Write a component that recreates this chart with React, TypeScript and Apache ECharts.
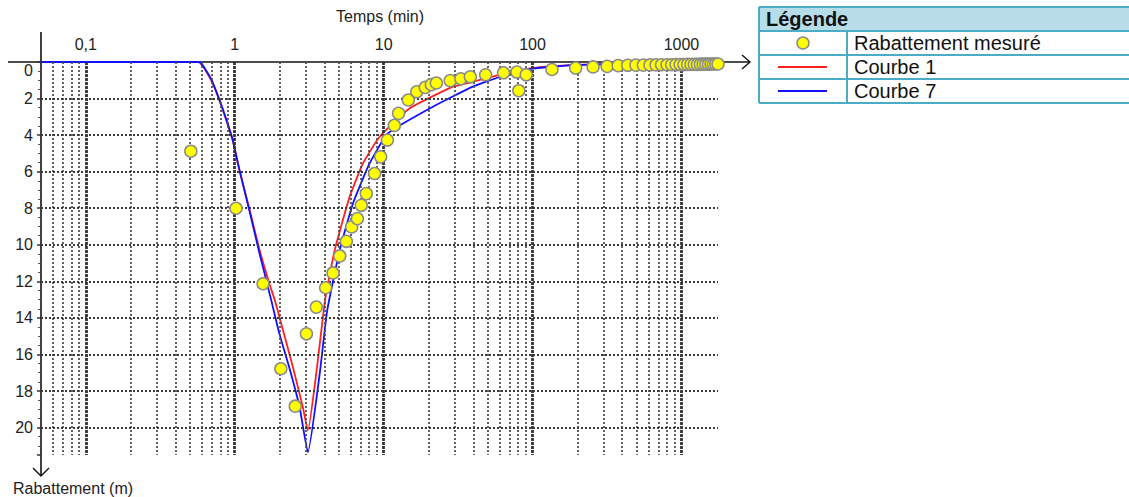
import React, { useEffect, useRef } from 'react';
import * as echarts from 'echarts';

// Measured drawdown (Rabattement mesuré): time (min) and drawdown (m)
const measuredTime = [0.507, 1.02, 1.55, 2.04, 2.55, 3.03, 3.53, 4.08, 4.57, 5.07, 5.62, 6.10, 6.66, 7.08, 7.65, 8.70, 9.55, 10.6, 11.8, 12.6, 14.65, 16.7, 19.05, 20.9, 22.6, 28.0, 33.0, 38.2, 48.4, 63.9, 78.5, 80.9, 90.7, 135, 195, 255, 317, 376, 436, 495, 555, 615, 675, 735, 800, 860, 920, 980, 1040, 1100, 1160, 1220, 1280, 1340, 1400, 1460, 1520, 1580, 1640, 1700, 1760];
const measuredDrawdown = [4.88, 8.0, 12.13, 16.78, 18.83, 14.87, 13.41, 12.35, 11.54, 10.61, 9.81, 9.02, 8.57, 7.84, 7.2, 6.10, 5.19, 4.27, 3.47, 2.81, 2.08, 1.63, 1.39, 1.24, 1.15, 1.02, 0.92, 0.81, 0.70, 0.59, 0.55, 1.57, 0.70, 0.41, 0.33, 0.27, 0.24, 0.20, 0.18, 0.17, 0.17, 0.16, 0.16, 0.15, 0.15, 0.15, 0.14, 0.14, 0.14, 0.13, 0.13, 0.13, 0.13, 0.12, 0.12, 0.12, 0.12, 0.11, 0.11, 0.11, 0.11];

// Courbe 1
const courbe1Time = [0.05, 0.57, 0.6, 0.63, 0.7, 0.79, 0.88, 0.97, 1.07, 1.26, 1.47, 1.72, 1.86, 2.46, 2.87, 3.1, 3.57, 4.04, 4.69, 5.91, 7.26, 9.4, 14.9, 29.2, 35.9, 60, 100, 200, 500, 1000, 1760];
const courbe1Drawdown = [0, 0, 0.15, 0.4, 1.05, 2.1, 3.2, 4.3, 5.85, 8.1, 10.3, 12.2, 13.04, 16.7, 18.9, 20.16, 16.7, 13.04, 10.3, 7.38, 5.55, 4.09, 2.54, 1.35, 1.17, 0.71, 0.33, 0.16, 0.09, 0.06, 0.04];

// Courbe 7
const courbe7Time = [0.05, 0.58, 0.63, 0.7, 0.79, 0.88, 0.97, 1.07, 1.26, 1.47, 1.76, 2.0, 2.34, 2.73, 3.1, 3.72, 4.18, 5.07, 6.22, 8.05, 10.7, 21.4, 39.7, 60, 100, 200, 500, 1000, 1760];
const courbe7Drawdown = [0, 0, 0.35, 0.99, 2.08, 3.18, 4.27, 5.82, 8.2, 10.5, 13.04, 14.9, 16.8, 18.9, 21.35, 17.06, 13.59, 10.3, 7.74, 5.55, 3.9, 2.45, 1.35, 0.82, 0.36, 0.16, 0.09, 0.06, 0.04];

// Grid lines
const majorTimes = [0.1, 1, 10, 100, 1000];
const minorTimes = [0.06, 0.07, 0.08, 0.09, 0.2, 0.3, 0.4, 0.5, 0.6, 0.7, 0.8, 0.9, 2, 3, 4, 5, 6, 7, 8, 9, 20, 30, 40, 50, 60, 70, 80, 90, 200, 300, 400, 500, 600, 700, 800, 900];
const depthGrid = [2, 4, 6, 8, 10, 12, 14, 16, 18, 20];

const FONT = '"Liberation Sans", Arial, sans-serif';

const zip = (a: number[], b: number[]) => a.map((v, i) => [v, b[i]]);

export default function App() {
  const ref = useRef<HTMLDivElement>(null);
  useEffect(() => {
    if (!ref.current) return;
    const chart = echarts.init(ref.current, null, { renderer: 'svg' });
    const borderColor = '#4bacc6';
    const hLine = (y: number) => ({ type: 'line', shape: { x1: 759, y1: y, x2: 1140, y2: y }, style: { stroke: borderColor, lineWidth: 2 } });
    const txt = (x: number, y: number, text: string, extra: any = {}) => ({
      type: 'text', x, y,
      style: { text, font: `20px ${FONT}`, fill: '#111', align: 'left', verticalAlign: 'middle', textAlign: 'left', textVerticalAlign: 'middle', ...extra },
    });
    const option: any = {
      animation: false,
      textStyle: { fontFamily: FONT },
      grid: { left: 41, top: 62, right: 411, bottom: 42 },
      xAxis: {
        type: 'log', logBase: 10, min: 0.05, max: 1760, position: 'top',
        axisLine: { show: false }, axisTick: { show: false }, splitLine: { show: false }, minorSplitLine: { show: false },
        axisLabel: {
          fontSize: 16, color: '#222', margin: 10, fontFamily: FONT,
          formatter: (v: number) => {
            const l = Math.log10(v);
            if (Math.abs(l - Math.round(l)) > 1e-6) return '';
            return String(Number(v.toPrecision(6))).replace('.', ',');
          },
        },
      },
      yAxis: {
        type: 'value', inverse: true, min: 0, max: 21.5, interval: 2,
        axisLine: { show: false },
        axisTick: { show: true, length: 4, lineStyle: { color: '#333', width: 1.5 } },
        minorTick: { show: true, splitNumber: 4, length: 3, lineStyle: { color: '#555' } },
        splitLine: { show: false },
        axisLabel: {
          fontSize: 16, color: '#222', margin: 8, fontFamily: FONT,
          formatter: (v: number) => (v === 0 ? '{z|0}' : Number.isInteger(v) ? String(v) : ''),
          rich: { z: { fontSize: 16, color: '#222', padding: [16, 0, 0, 0] } },
        },
      },
      series: [
        {
          name: 'grid', type: 'line', data: [], z: 1, silent: true,
          markLine: {
            silent: true, symbol: ['none', 'none'], label: { show: false }, animation: false,
            emphasis: { disabled: true },
            data: [
              ...minorTimes.map((v) => ({ xAxis: v, lineStyle: { color: '#505050', width: 1.8, type: [2, 2] } })),
              ...majorTimes.map((v) => ({ xAxis: v, lineStyle: { color: '#333', width: 2.8, type: [3, 1] } })),
              ...depthGrid.map((v) => ({ yAxis: v, lineStyle: { color: '#3a3a3a', width: 1.8, type: [2, 2] } })),
            ],
          },
        },
        {
          name: 'Courbe 1', type: 'line', data: zip(courbe1Time, courbe1Drawdown), showSymbol: false, symbol: 'none',
          smooth: 0.15, clip: false, z: 3, lineStyle: { color: '#ff2020', width: 1.8 },
        },
        {
          name: 'Courbe 7', type: 'line', data: zip(courbe7Time, courbe7Drawdown), showSymbol: false, symbol: 'none',
          smooth: 0.15, clip: false, z: 4, lineStyle: { color: '#1010ff', width: 1.8 },
        },
        {
          name: 'Rabattement mesuré', type: 'scatter', data: zip(measuredTime, measuredDrawdown), symbolSize: 12,
          clip: false, z: 5, itemStyle: { color: '#ffff00', borderColor: '#8a8a8a', borderWidth: 1.5, opacity: 1 },
        },
      ],
      graphic: [
        // axes with arrows
        { type: 'line', shape: { x1: 8, y1: 62, x2: 750, y2: 62 }, style: { stroke: '#111', lineWidth: 1.6 }, z: 0 },
        { type: 'polyline', shape: { points: [[742, 55], [750, 62], [742, 69]] }, style: { stroke: '#111', lineWidth: 1.4, fill: 'none' } },
        { type: 'line', shape: { x1: 41, y1: 32, x2: 41, y2: 476 }, style: { stroke: '#111', lineWidth: 1.6 }, z: 0 },
        { type: 'polyline', shape: { points: [[33, 468], [41, 476], [49, 468]] }, style: { stroke: '#111', lineWidth: 1.4, fill: 'none' } },
        { type: 'text', x: 380, y: 16, style: { text: 'Temps (min)', font: `16px ${FONT}`, fill: '#222', align: 'center', verticalAlign: 'middle', textAlign: 'center', textVerticalAlign: 'middle' } },
        { type: 'text', x: 13, y: 488, style: { text: 'Rabattement (m)', font: `16px ${FONT}`, fill: '#222', align: 'left', verticalAlign: 'middle', textAlign: 'left', textVerticalAlign: 'middle' } },
        // legend table
        { type: 'rect', shape: { x: 759, y: 7, width: 380, height: 24 }, style: { fill: '#b7dde8' } },
        hLine(7), hLine(31), hLine(55), hLine(79), hLine(103),
        { type: 'line', shape: { x1: 759, y1: 7, x2: 759, y2: 103 }, style: { stroke: borderColor, lineWidth: 2 } },
        { type: 'line', shape: { x1: 847, y1: 31, x2: 847, y2: 103 }, style: { stroke: borderColor, lineWidth: 2 } },
        txt(766, 19, 'Légende', { font: `bold 20px ${FONT}` }),
        { type: 'circle', shape: { cx: 803, cy: 43, r: 6 }, style: { fill: '#ffff00', stroke: '#8a8a8a', lineWidth: 1.5 } },
        txt(854, 43, 'Rabattement mesuré'),
        { type: 'line', shape: { x1: 778, y1: 67, x2: 827, y2: 67 }, style: { stroke: '#ff2020', lineWidth: 1.8 } },
        txt(854, 67, 'Courbe 1'),
        { type: 'line', shape: { x1: 778, y1: 91, x2: 827, y2: 91 }, style: { stroke: '#1010ff', lineWidth: 1.8 } },
        txt(854, 91, 'Courbe 7'),
      ],
    };
    chart.setOption(option);
    return () => chart.dispose();
  }, []);
  return <div ref={ref} style={{ position: 'absolute', left: 0, top: 0, width: 1129, height: 497, background: '#fff' }} />;
}
